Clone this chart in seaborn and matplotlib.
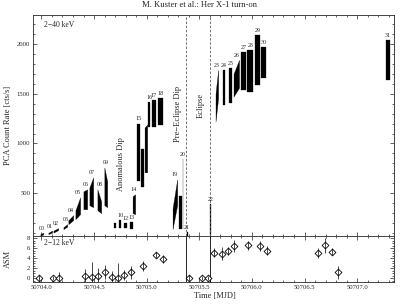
import numpy as np
import pandas as pd
import seaborn as sns
import matplotlib.pyplot as plt
from matplotlib.ticker import MultipleLocator, FormatStrFormatter

# PCA light curve, one band per orbit segment (start/end time, low/high rate)
seg_orbit = ["00", "01", "02", "03", "04", "05", "06", "07", "08", "09",
             "10", "10", "12", "13", "14", "15", "15", "15", "16", "17",
             "18", "19", "19", "20", "21", "22", "23", "24", "25", "26",
             "27", "28", "29", "30", "31"]
seg_t0 = [50703.990, 50704.066, 50704.114, 50704.209, 50704.256, 50704.323,
          50704.399, 50704.456, 50704.532, 50704.598, 50704.693, 50704.741,
          50704.788, 50704.845, 50704.866, 50704.912, 50704.945, 50704.980,
          50705.012, 50705.047, 50705.104, 50705.246, 50705.303, 50705.341,
          50705.382, 50705.603, 50705.654, 50705.721, 50705.778, 50705.825,
          50705.901, 50705.958, 50706.034, 50706.091, 50707.278]
seg_t1 = [50704.017, 50704.102, 50704.159, 50704.245, 50704.302, 50704.368,
          50704.435, 50704.492, 50704.568, 50704.625, 50704.712, 50704.760,
          50704.814, 50704.871, 50704.891, 50704.938, 50704.976, 50705.005,
          50705.033, 50705.090, 50705.157, 50705.290, 50705.337, 50705.347,
          50705.389, 50705.607, 50705.679, 50705.745, 50705.812, 50705.878,
          50705.945, 50706.011, 50706.078, 50706.135, 50707.312]
seg_lo0 = [75, 90, 105, 140, 190, 240, 340, 380, 330, 380,
           150, 150, 150, 140, 300, 620, 560, 710, 1170, 1170,
           1190, 140, 140, 140, 60, 80, 1220, 1390, 1410, 1470,
           1540, 1520, 1590, 1660, 1640]
seg_hi0 = [90, 105, 125, 160, 230, 330, 520, 560, 540, 760,
           200, 230, 200, 210, 470, 1200, 940, 1160, 1420, 1440,
           1460, 350, 470, 840, 110, 390, 1500, 1740, 1760, 1700,
           1920, 1940, 2090, 1970, 2040]
seg_lo1 = [85, 105, 130, 165, 230, 290, 340, 360, 300, 360,
           150, 150, 150, 140, 290, 620, 560, 710, 1170, 1170,
           1190, 380, 140, 140, 60, 80, 1450, 1390, 1410, 1560,
           1540, 1520, 1590, 1660, 1640]
seg_hi1 = [105, 125, 150, 190, 280, 460, 540, 660, 420, 620,
           200, 230, 200, 210, 490, 1200, 940, 1190, 1420, 1440,
           1460, 640, 470, 840, 110, 390, 1740, 1740, 1760, 1840,
           1920, 1940, 2090, 1970, 2040]

# ASM 2-12 keV dwell points
asm_t = [50703.981, 50704.114, 50704.171, 50704.418, 50704.484, 50704.541,
         50704.608, 50704.674, 50704.731, 50704.788, 50704.855, 50704.969,
         50705.092, 50705.159, 50705.405, 50705.529, 50705.586, 50705.643,
         50705.719, 50705.776, 50705.833, 50705.966, 50706.080, 50706.146,
         50706.631, 50706.697, 50706.764, 50706.821]
asm_rate = [0.0, 0.0, 0.0, 0.4, 0.2, 0.5, 1.2, 0.3, 0.0, 0.6, 1.2, 2.4,
            4.6, 3.8, 0.0, 0.0, 0.0, 5.1, 4.9, 5.5, 6.5, 6.6, 6.5, 5.5,
            5.1, 6.6, 5.3, 1.2]
asm_err = [0.6, 0.4, 1.2, 1.5, 3.0, 1.6, 1.4, 1.2, 3.0, 1.0, 1.3, 1.0,
           0.65, 0.8, 0.6, 0.4, 0.4, 0.9, 1.3, 0.8, 1.2, 0.9, 1.0, 0.9,
           1.0, 1.5, 0.7, 1.3]

event_t = [50705.377, 50705.605]          # pre-eclipse dip, eclipse start
event_names = ["Anomalous Dip", "Pre\u2212Eclipse Dip", "Eclipse"]
event_text_t = [50704.760, 50705.300, 50705.510]
event_text_rate = [520, 1010, 1260]

sns.set_theme(style="ticks")
plt.rcParams['font.family'] = ['Liberation Serif', 'DejaVu Serif']
plt.rcParams['axes.linewidth'] = 0.6

seg = pd.DataFrame({"orbit": seg_orbit, "t0": seg_t0, "t1": seg_t1,
                    "lo0": seg_lo0, "hi0": seg_hi0,
                    "lo1": seg_lo1, "hi1": seg_hi1})
asm = pd.DataFrame({"t": asm_t, "rate": asm_rate, "err": asm_err})

fig = plt.figure(figsize=(4, 3.06), dpi=100)
gs = fig.add_gridspec(2, 1, height_ratios=[221, 46], hspace=0,
                      left=0.0825, right=0.985, top=0.951, bottom=0.078)
ax = fig.add_subplot(gs[0])
ax2 = fig.add_subplot(gs[1], sharex=ax)

# light curve bands
for _, r in seg.iterrows():
    ax.fill_between([r.t0, r.t1], [r.lo0, r.lo1], [r.hi0, r.hi1],
                    color="black", lw=0.2, edgecolor="black")

# orbit numbers above each orbit's highest band
for orb, g in seg.groupby("orbit", sort=False):
    top = g.loc[g[["hi0", "hi1"]].max(axis=1).idxmax()]
    ax.annotate(orb, ((top.t0 + top.t1) / 2, max(top.hi0, top.hi1)),
                xytext=(0, 1.5), textcoords="offset points",
                ha="center", va="bottom", fontsize=4.3)

for t in event_t:
    ax.axvline(t, color="0.35", lw=0.6, dashes=(3, 2))
    ax2.axvline(t, color="black", lw=0.6)

for name, t, r in zip(event_names, event_text_t, event_text_rate):
    ax.text(t, r, name, rotation=90, ha="center", va="bottom", fontsize=6)

ax.text(0.03, 0.955, "2\u221240 keV", transform=ax.transAxes,
        ha="left", va="center", fontsize=5.5)
ax2.text(0.03, 0.84, "2\u221212 keV", transform=ax2.transAxes,
         ha="left", va="center", fontsize=5.5)

# ASM panel: open diamonds with the error bar drawn through them
sns.scatterplot(data=asm, x="t", y="rate", ax=ax2, marker="D", s=12,
                facecolor="white", edgecolor="black", linewidth=0.6,
                zorder=2)
ax2.errorbar(asm.t, asm.rate, yerr=asm.err, fmt="none", ecolor="black",
             elinewidth=0.5, capsize=0, zorder=3)

ax.set_xlim(50703.92, 50707.35)
ax.set_ylim(70, 2290)
ax2.set_ylim(-0.8, 8.4)

ax.yaxis.set_major_locator(MultipleLocator(500))
ax.yaxis.set_minor_locator(MultipleLocator(100))
ax2.yaxis.set_major_locator(MultipleLocator(2))
ax2.yaxis.set_minor_locator(MultipleLocator(0.5))
ax2.xaxis.set_major_locator(MultipleLocator(0.5))
ax2.xaxis.set_minor_locator(MultipleLocator(0.1))
ax2.xaxis.set_major_formatter(FormatStrFormatter("%.1f"))

for a in (ax, ax2):
    a.tick_params(which="both", direction="in", top=True, right=True,
                  labelsize=4.8, width=0.5, pad=2)
    a.tick_params(which="major", length=3)
    a.tick_params(which="minor", length=1.5)
    a.set_xlabel("")
    a.set_ylabel("")
ax.tick_params(labelbottom=False)

fig.text(0.5, 0.984, "M. Kuster et al.: Her X-1 turn-on",
         ha="center", va="center", fontsize=6.2)
fig.text(0.02, 0.59, "PCA Count Rate [cts/s]", rotation=90,
         ha="center", va="center", fontsize=6)
fig.text(0.02, 0.154, "ASM", rotation=90, ha="center", va="center",
         fontsize=6)
fig.text(0.5375, 0.033, "Time [MJD]", ha="center", va="center", fontsize=6)

fig.savefig("out.png", dpi=100)
